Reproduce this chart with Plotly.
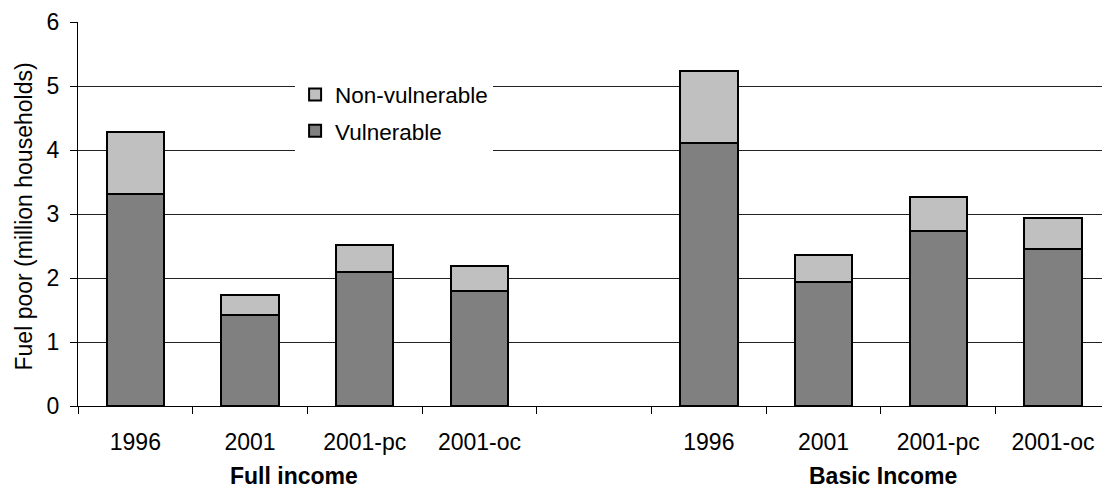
import plotly.graph_objects as go

# ---- data ----
categories = ["1996", "2001", "2001-pc", "2001-oc", "", "1996", "2001", "2001-pc", "2001-oc"]
group_labels = ["Full income", "Basic Income"]
vulnerable = [3.31, 1.42, 2.09, 1.80, None, 4.11, 1.94, 2.74, 2.46]
non_vulnerable = [0.97, 0.31, 0.42, 0.38, None, 1.13, 0.42, 0.52, 0.47]
y_ticks = [0, 1, 2, 3, 4, 5, 6]

FONT = "Liberation Sans, Arial, sans-serif"
x_idx = list(range(len(categories)))

fig = go.Figure()
fig.add_trace(go.Bar(
    x=x_idx, y=vulnerable, name="Vulnerable", legendgroup="v", legendrank=2,
    marker=dict(color="#808080", line=dict(color="black", width=2)),
    width=0.5,
))
fig.add_trace(go.Bar(
    x=x_idx, y=non_vulnerable, name="Non-vulnerable", legendgroup="n", legendrank=1,
    marker=dict(color="#C0C0C0", line=dict(color="black", width=2)),
    width=0.5,
))

W, H = 1102, 491
ml, mt, mb, mr = 78, 22, 85, 0
plot_w = W - ml - mr
slot_px = 114.7

fig.update_layout(
    width=W, height=H,
    margin=dict(l=ml, r=mr, t=mt, b=mb, pad=0),
    barmode="stack",
    plot_bgcolor="white", paper_bgcolor="white",
    font=dict(family=FONT, size=23, color="black"),
    showlegend=True,
    legend=dict(
        x=0.212, y=0.866, xanchor="left", yanchor="top",
        bgcolor="white", borderwidth=0,
        traceorder="grouped", tracegroupgap=4,
        font=dict(family=FONT, size=22.5, color="black"),
    ),
    xaxis=dict(
        range=[-0.5, -0.5 + plot_w / slot_px],
        tickmode="array",
        tickvals=[i for i, c in enumerate(categories) if c],
        ticktext=[c for c in categories if c],
        ticks="", showgrid=False, zeroline=False,
        showline=True, linecolor="black", linewidth=1,
        tickfont=dict(family=FONT, size=23, color="black"),
        ticklabelstandoff=15,
        minor=dict(ticks="outside", tick0=-0.5, dtick=1, ticklen=7,
                   tickcolor="black", tickwidth=1, showgrid=False),
    ),
    yaxis=dict(
        range=[0, 6], tickmode="array", tickvals=y_ticks,
        ticks="outside", ticklen=7, tickcolor="black", tickwidth=1,
        showgrid=True, gridcolor="#222222", gridwidth=1,
        zeroline=False, showline=True, linecolor="black", linewidth=1,
        tickfont=dict(family=FONT, size=23, color="black"),
        ticklabelstandoff=6,
    ),
    bargap=0.5,
)

# y-axis title
fig.add_annotation(
    text="Fuel poor (million households)", textangle=-90,
    xref="paper", yref="paper", x=(24 - ml) / plot_w, y=0.4935,
    xanchor="center", yanchor="middle", showarrow=False,
    font=dict(family=FONT, size=23, color="black"),
)
# group labels
for lbl, xc in zip(group_labels, [1.387, 6.52]):
    fig.add_annotation(
        text="<b>" + lbl + "</b>", xref="x", yref="paper", x=xc, y=-0.183,
        xanchor="center", yanchor="middle", showarrow=False,
        font=dict(family=FONT, size=23, color="black"),
    )

fig.write_html("out.html")
